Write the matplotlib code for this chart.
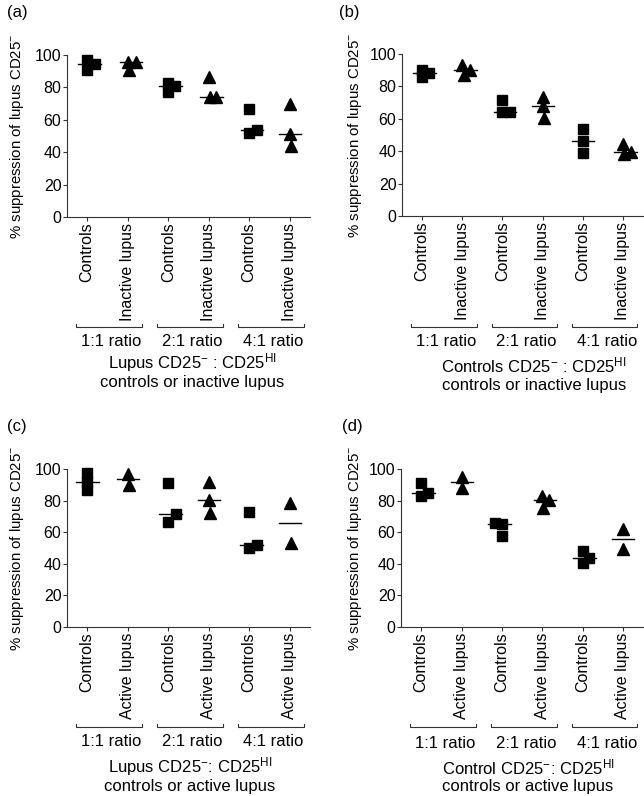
import numpy as np
import matplotlib
matplotlib.use("Agg")
import matplotlib.pyplot as plt
from matplotlib.transforms import blended_transform_factory

plt.rcParams['font.family'] = ['Liberation Sans', 'DejaVu Sans']
plt.rcParams['mathtext.fontset'] = 'custom'
plt.rcParams['mathtext.rm'] = 'Liberation Sans'
plt.rcParams['mathtext.it'] = 'Liberation Sans'
plt.rcParams['mathtext.bf'] = 'Liberation Sans'

# % suppression values, one list per group
# group order: controls 1:1, lupus 1:1, controls 2:1, lupus 2:1, controls 4:1, lupus 4:1
a_vals = [[96.9, 90.7, 94.2], [95.9, 90.7, 95.9], [82.5, 77.3, 81.0],
          [86.6, 73.8, 74.2], [66.6, 52.0, 53.6], [69.5, 51.5, 44.0]]
b_vals = [[89.9, 86.0, 88.0], [93.0, 86.8, 90.0], [71.6, 64.4, 64.4],
          [73.3, 67.9, 60.3], [54.0, 46.5, 38.7], [44.4, 38.3, 39.3]]
c_vals = [[97.5, 92.0, 86.5], [97.0, 90.0], [91.4, 66.7, 71.4],
          [92.0, 80.4, 72.0], [72.6, 50.3, 51.8], [78.7, 53.0]]
d_vals = [[90.9, 83.2, 85.0], [95.2, 87.8], [66.1, 65.3, 57.7],
          [82.9, 75.2, 80.4], [48.4, 40.8, 43.4], [61.9, 49.5]]

inactive_ticks = ['Controls', 'Inactive lupus'] * 3
active_ticks = ['Controls', 'Active lupus'] * 3
ratios = ['1:1 ratio', '2:1 ratio', '4:1 ratio']

# horizontal scatter of the dots inside each group (layout only)
a_jit = [[0, 0, .18], [0, .04, .2], [0, 0, .17], [0, .02, .19], [0, 0, .2], [0, 0, .02]]
b_jit = [[0, 0, .18], [0, .04, .19], [0, 0, .19], [0, 0, .04], [0, 0, 0], [0, .02, .19]]
c_jit = [[0, 0, 0], [0, .02], [0, 0, .18], [0, 0, .02], [0, 0, .19], [0, .02]]
d_jit = [[0, 0, .18], [0, .02], [-.18, 0, 0], [0, .02, .18], [0, 0, .17], [0, 0]]

W, H = 644, 796
fig = plt.figure(figsize=(W / 100, H / 100), dpi=100)


def rect(l, r, t, b):
    return [l / W, 1 - b / H, (r - l) / W, (b - t) / H]


def fx(x):
    return x / W


def fy(y):
    return 1 - y / H


def panel(box, vals, jit, ticks, letter, lx, ly, ylx, yly, title, tx, ty1, ty2,
          brk_y, rat_y):
    ax = fig.add_axes(rect(*box))
    for i, (v, j) in enumerate(zip(vals, jit)):
        mk = 's' if i % 2 == 0 else '^'
        ms = 6.5 if mk == 's' else 8
        xs = i + np.array(j)
        ax.plot(xs, v, ls='none', marker=mk, ms=ms, color='black', clip_on=False)
        c = i + np.mean(j)
        m = np.median(v)
        ax.plot([c - 0.28, c + 0.28], [m, m], color='black', lw=1.0, clip_on=False)
    ax.set_xlim(-0.5, 5.5)
    ax.set_ylim(0, 100)
    ax.set_yticks([0, 20, 40, 60, 80, 100])
    ax.set_xticks(range(6))
    ax.set_xticklabels(ticks, rotation=90, fontsize=11.5, va='top')
    ax.tick_params(axis='y', labelsize=11.5, length=3, width=0.8, pad=1,
                   color='#333333')
    ax.tick_params(axis='x', length=3, width=0.8, pad=1, color='#333333')
    for s in ['top', 'right']:
        ax.spines[s].set_visible(False)
    for s in ['left', 'bottom']:
        ax.spines[s].set_linewidth(0.8)
        ax.spines[s].set_color('#333333')

    tr = blended_transform_factory(ax.transData, fig.transFigure)
    d = 3 / H
    for k, lab in enumerate(ratios):
        x0 = 2 * k - 0.27
        x1 = 2 * k + 1.36
        yb = fy(brk_y)
        ax.plot([x0, x0, x1, x1], [yb + d, yb, yb, yb + d], color='#333333',
                lw=0.8, transform=tr, clip_on=False)
        ax.text(2 * k + 0.6, fy(rat_y), lab, transform=tr, ha='center',
                va='center', fontsize=12)

    fig.text(fx(lx), fy(ly), letter, ha='left', va='center', fontsize=12)
    fig.text(fx(ylx), fy(yly), r'% suppression of lupus CD25$^{-}$', rotation=90,
             ha='center', va='center', fontsize=10.8)
    fig.text(fx(tx), fy(ty1), title, ha='center', va='center', fontsize=12)
    fig.text(fx(tx), fy(ty2), title_2[letter], ha='center', va='center',
             fontsize=12)
    return ax


title_2 = {'(a)': 'controls or inactive lupus', '(b)': 'controls or inactive lupus',
           '(c)': 'controls or active lupus', '(d)': 'controls or active lupus'}

panel((67, 310, 55, 217), a_vals, a_jit, inactive_ticks, '(a)', 7, 13, 17, 136,
      r'Lupus CD25$^{-}$ : CD25$^{\mathrm{HI}}$', 192, 363, 383, 327, 342)
panel((402, 643, 54, 216), b_vals, b_jit, inactive_ticks, '(b)', 339, 13, 355, 135,
      r'Controls CD25$^{-}$ : CD25$^{\mathrm{HI}}$', 534, 365, 385, 327, 342)
panel((67, 310, 469, 627), c_vals, c_jit, active_ticks, '(c)', 7, 427, 17, 548,
      r'Lupus CD25$^{-}$: CD25$^{\mathrm{HI}}$', 190, 767, 786, 727, 742)
panel((401, 643, 469, 627), d_vals, d_jit, active_ticks, '(d)', 342, 427, 355, 548,
      r'Control CD25$^{-}$: CD25$^{\mathrm{HI}}$', 528, 767, 786, 727, 743)

fig.savefig('out.png', dpi=100)
